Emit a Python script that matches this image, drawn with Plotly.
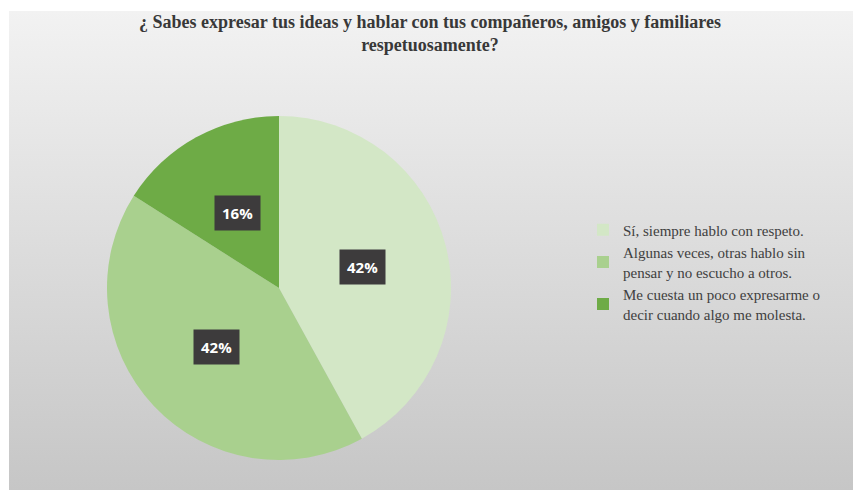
# pie chart: respeto al expresarse
import numpy as np
import plotly.graph_objects as go

# page body has an 8px margin, so the figure sits at (8, 8) in the window
OX, OY = 8, 8
W, H = 861 - OX, 493 - OY

labels = ["Sí, siempre hablo con respeto.",
          "Algunas veces, otras hablo sin<br>pensar y no escucho a otros.",
          "Me cuesta un poco expresarme o<br>decir cuando algo me molesta."]
values = [42, 42, 16]
colors = ['#d3e7c6', '#a9d08e', '#6eab46']
title = "¿ Sabes expresar tus ideas y hablar con tus compañeros, amigos y familiares<br>respetuosamente?"

# pie placement in window pixels (center, radius)
cx, cy, rad = 279 - OX, 288 - OY, 172
dom_x = [(cx - rad) / W, (cx + rad) / W]
dom_y = [1 - (cy + rad) / H, 1 - (cy - rad) / H]

fig = go.Figure()

# gradient background panel
fig.add_trace(go.Scatter(
    x=[1, W, W, 1, 1], y=[H - 482, H - 482, H - 3, H - 3, H - 482],
    mode='lines', line=dict(width=0), fill='toself',
    fillgradient=dict(type='vertical', colorscale=[[0, '#c6c6c6'], [0.5, '#dcdcdc'], [1, '#f2f2f2']]),
    hoverinfo='skip', showlegend=False))

fig.add_trace(go.Pie(
    labels=labels, values=values, sort=False, direction='clockwise', rotation=0,
    marker=dict(colors=colors, line=dict(width=0)),
    textinfo='none', hoverinfo='label+percent',
    domain=dict(x=dom_x, y=dom_y)))

# percent labels at half radius, dark boxes
total = sum(values)
cum = 0
for v in values:
    mid = (cum + v / 2) / total * 2 * np.pi
    cum += v
    px_ = cx + 0.5 * rad * np.sin(mid)
    py_ = cy - 0.5 * rad * np.cos(mid)
    fig.add_annotation(x=px_ / W, y=1 - py_ / H, xref='paper', yref='paper',
                       xanchor='center', yanchor='middle',
                       text="<b>%d%%</b>" % round(100 * v / total), showarrow=False,
                       font=dict(family="Open Sans", size=15, color='white'),
                       bgcolor='#3d3b3c', borderpad=7)

fig.update_xaxes(range=[0, W], visible=False, fixedrange=True)
fig.update_yaxes(range=[0, H], visible=False, fixedrange=True)
fig.update_layout(
    width=W, height=H, autosize=False,
    margin=dict(b=0, l=0, r=0, t=0),
    plot_bgcolor='white', paper_bgcolor='white',
    title=dict(text="<b>" + title + "</b>", x=(430 - OX) / W, xanchor='center',
               y=1 - (27.5 - OY) / H, yanchor='middle',
               font=dict(family="Liberation Serif", size=18, color='#383838')),
    legend=dict(x=(583 - OX) / W, y=1 - (272 - OY) / H, xanchor='left', yanchor='middle',
                bgcolor='rgba(0,0,0,0)',
                font=dict(family="Liberation Serif", size=15, color='#404040'),
                tracegroupgap=0, itemwidth=30),
)

fig.write_html("out.html")
